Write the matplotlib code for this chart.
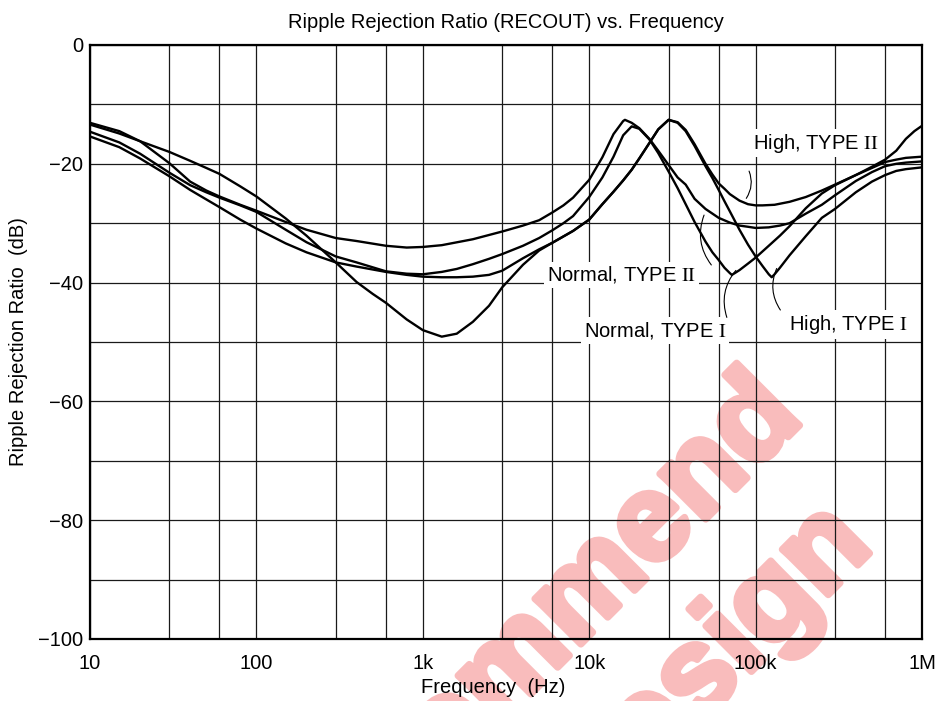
import numpy as np
import matplotlib
matplotlib.use("Agg")
import matplotlib.pyplot as plt
import matplotlib.patheffects as pe
from matplotlib.ticker import FixedLocator, NullFormatter

plt.rcParams['font.family'] = ['Liberation Sans', 'DejaVu Sans']
plt.rcParams['mathtext.fontset'] = 'stix'

# Normal, TYPE II
f_norm2 = [10, 15, 20, 30, 40, 50, 60, 80, 100, 150, 200, 300, 400, 600, 800, 1000, 1300, 2000,
           3000, 4000, 5000, 6000, 7000, 8000, 10e3, 12e3, 14e3, 16e3, 16.4e3, 18e3, 20e3, 23e3,
           26e3, 30e3, 34e3, 38e3, 43e3, 50e3, 60e3, 70e3, 80e3, 90e3, 100e3, 120e3, 140e3,
           160e3, 200e3, 250e3, 300e3, 400e3, 500e3, 600e3, 700e3, 800e3, 1e6]
db_norm2 = [-13.4, -14.9, -16.2, -19.9, -23.0, -24.5, -25.5, -26.9, -27.9, -29.8, -31.1, -32.5,
            -33.0, -33.8, -34.1, -34.0, -33.7, -32.7, -31.4, -30.4, -29.5, -28.2, -27.0, -25.7,
            -22.7, -18.9, -15.0, -12.8, -12.6, -13.1, -14.0, -15.8, -17.8, -20.2, -22.3, -23.5,
            -25.9, -27.6, -29.1, -29.9, -30.4, -30.6, -30.8, -30.7, -30.4, -30.0, -28.4, -26.9,
            -25.3, -22.9, -21.4, -20.4, -20.0, -19.8, -19.6]

# Normal, TYPE I
f_norm1 = [10, 15, 20, 30, 40, 50, 60, 80, 100, 150, 200, 300, 400, 600, 800, 1000, 1300, 1600,
           2000, 2500, 3000, 4000, 5000, 6000, 7000, 8000, 10e3, 12e3, 14e3, 16e3, 18e3, 20e3,
           23e3, 26e3, 30e3, 34e3, 38e3, 43e3, 50e3, 55e3, 60e3, 65e3, 70e3, 72e3, 75e3, 80e3,
           90e3, 100e3, 120e3, 140e3, 160e3, 200e3, 250e3, 300e3, 400e3, 500e3, 600e3, 700e3,
           800e3, 900e3, 1e6]
db_norm1 = [-14.6, -16.4, -18.3, -21.5, -23.6, -24.8, -25.7, -27.0, -28.1, -31.1, -33.2, -35.6,
            -36.6, -38.1, -38.5, -38.6, -38.2, -37.7, -36.9, -36.0, -35.2, -33.8, -32.5, -31.2,
            -30.0, -28.8, -25.6, -22.3, -18.8, -15.2, -13.7, -14.1, -15.9, -18.2, -21.3, -24.1,
            -26.8, -29.8, -33.1, -34.9, -36.2, -37.5, -38.4, -38.7, -38.4, -37.9, -36.8, -35.8,
            -33.8, -32.1, -30.5, -27.5, -25.0, -23.6, -21.9, -20.5, -19.3, -17.8, -15.8, -14.5,
            -13.6]

# High, TYPE II
f_high2 = [10, 15, 20, 30, 40, 50, 60, 80, 100, 150, 200, 300, 400, 600, 800, 1000, 1300, 1600,
           2000, 2500, 3000, 4000, 5000, 6000, 8000, 10e3, 12e3, 14e3, 16e3, 18e3, 20e3, 23e3,
           26e3, 30e3, 34e3, 38e3, 43e3, 50e3, 55e3, 60e3, 65e3, 70e3, 80e3, 90e3, 100e3, 110e3,
           130e3, 160e3, 200e3, 250e3, 300e3, 400e3, 500e3, 600e3, 700e3, 800e3, 1e6]
db_high2 = [-15.4, -17.2, -19.1, -22.1, -24.4, -26.0, -27.3, -29.4, -30.9, -33.4, -34.9, -36.6,
            -37.3, -38.2, -38.7, -39.0, -39.1, -39.1, -39.0, -38.7, -38.0, -35.9, -34.4, -33.3,
            -31.3, -29.4, -26.8, -24.7, -22.8, -21.0, -19.1, -16.5, -14.2, -12.6, -13.0, -14.3,
            -16.7, -20.0, -21.8, -23.3, -24.2, -25.1, -26.2, -26.8, -27.0, -27.0, -26.9, -26.4,
            -25.6, -24.5, -23.5, -21.9, -20.7, -19.7, -19.3, -19.0, -18.8]

# High, TYPE I
f_high1 = [10, 15, 20, 30, 40, 50, 60, 80, 100, 150, 200, 300, 400, 500, 600, 800, 1000, 1300,
           1600, 2000, 2500, 3000, 4000, 5000, 6000, 8000, 10e3, 12e3, 14e3, 16e3, 18e3, 20e3,
           23e3, 26e3, 30e3, 34e3, 38e3, 43e3, 50e3, 55e3, 60e3, 65e3, 70e3, 75e3, 80e3, 90e3,
           100e3, 110e3, 120e3, 125e3, 130e3, 140e3, 160e3, 200e3, 250e3, 300e3, 400e3, 500e3,
           600e3, 700e3, 800e3, 1e6]
db_high1 = [-13.1, -14.5, -16.2, -18.0, -19.5, -20.7, -21.7, -23.8, -25.5, -29.2, -32.1, -36.6,
            -39.9, -41.9, -43.4, -46.2, -48.0, -49.1, -48.6, -46.6, -43.9, -40.8, -37.0, -34.6,
            -33.3, -31.3, -29.4, -26.8, -24.7, -22.8, -21.0, -19.1, -16.5, -14.2, -12.6, -13.1,
            -14.5, -17.0, -20.4, -22.4, -24.4, -26.3, -28.0, -29.6, -31.1, -33.6, -35.6, -37.2,
            -38.6, -39.1, -38.6, -37.5, -35.4, -32.2, -29.1, -27.6, -24.8, -23.0, -21.9, -21.2,
            -20.9, -20.6]

x_ticks = [10, 100, 1e3, 10e3, 100e3, 1e6]
x_tick_labels = ['10', '100', '1k', '10k', '100k', '1M']
y_ticks = [-100, -80, -60, -40, -20, 0]
y_tick_labels = ['\u2212100', '\u221280', '\u221260', '\u221240', '\u221220', '0']

fig = plt.figure(figsize=(9.41, 7.01), dpi=100)
ax = fig.add_axes([90 / 941, 1 - 639 / 701, 832 / 941, 594 / 701])
ax.set_facecolor('none')

for f, d in [(f_norm2, db_norm2), (f_norm1, db_norm1), (f_high2, db_high2), (f_high1, db_high1)]:
    ax.plot(f, d, color='black', lw=1.7, solid_capstyle='round', solid_joinstyle='round', zorder=3)

ax.set_xscale('log')
ax.set_xlim(10, 1e6)
ax.set_ylim(-100, 0)
ax.xaxis.set_major_locator(FixedLocator(x_ticks))
ax.set_xticklabels(x_tick_labels)
minor_x = [m * 10 ** k for k in range(1, 6) for m in (3, 6)]
ax.xaxis.set_minor_locator(FixedLocator(minor_x))
ax.xaxis.set_minor_formatter(NullFormatter())
ax.set_yticks(y_ticks)
ax.set_yticklabels(y_tick_labels)
ax.yaxis.set_minor_locator(FixedLocator(np.arange(-90, 0, 20)))
ax.tick_params(which='both', length=0, labelsize=14.5)
ax.tick_params(axis='x', pad=11)
ax.tick_params(axis='y', pad=5)
ax.grid(which='both', color='#1a1a1a', lw=0.9)
for s in ax.spines.values():
    s.set_linewidth(1.6)

ax.set_title('Ripple Rejection Ratio (RECOUT) vs. Frequency', fontsize=14.5, pad=12)
ax.set_xlabel('Frequency  (Hz)', fontsize=14.5)
ax.xaxis.set_label_coords(0.484, -0.066)
ax.set_ylabel('Ripple Rejection Ratio  (dB)', fontsize=14.5, labelpad=7)

box = dict(facecolor='white', edgecolor='none', pad=2)
labels = [
    (r'High, TYPE $\mathrm{II}$', 96e3, -16.5, 'left', (90e3, -20.8), (86e3, -26.2)),
    (r'Normal, TYPE $\mathrm{II}$', 15.7e3, -38.7, 'center', (55.5e3, -37.4), (49.7e3, -28.2)),
    (r'Normal, TYPE $\mathrm{I}$', 24.8e3, -48.1, 'center', (68e3, -46.3), (78e3, -37.6)),
    (r'High, TYPE $\mathrm{I}$', 361e3, -47.1, 'center', (144e3, -45.0), (136e3, -37.2)),
]
for txt, fx, fy, ha, p0, p1 in labels:
    ax.text(fx, fy, txt, ha=ha, va='center', fontsize=14.5, bbox=box, zorder=4)
    ax.annotate('', xy=p1, xytext=p0,
                arrowprops=dict(arrowstyle='-', lw=0.8, color='black',
                                connectionstyle='arc3,rad=-0.3'), zorder=4)

wm_color = '#f9bcbc'
wm = dict(fontsize=88, fontweight='bold', color=wm_color, rotation=45,
          rotation_mode='anchor', ha='right', va='baseline', zorder=-1,
          path_effects=[pe.withStroke(linewidth=5, foreground=wm_color)])
fig.text(805 / 941, 1 - 420 / 701, 'Not Recommend', **wm)
fig.text(875 / 941, 1 - 548 / 701, 'for New Design', **wm)

fig.savefig('out.png', dpi=100)
